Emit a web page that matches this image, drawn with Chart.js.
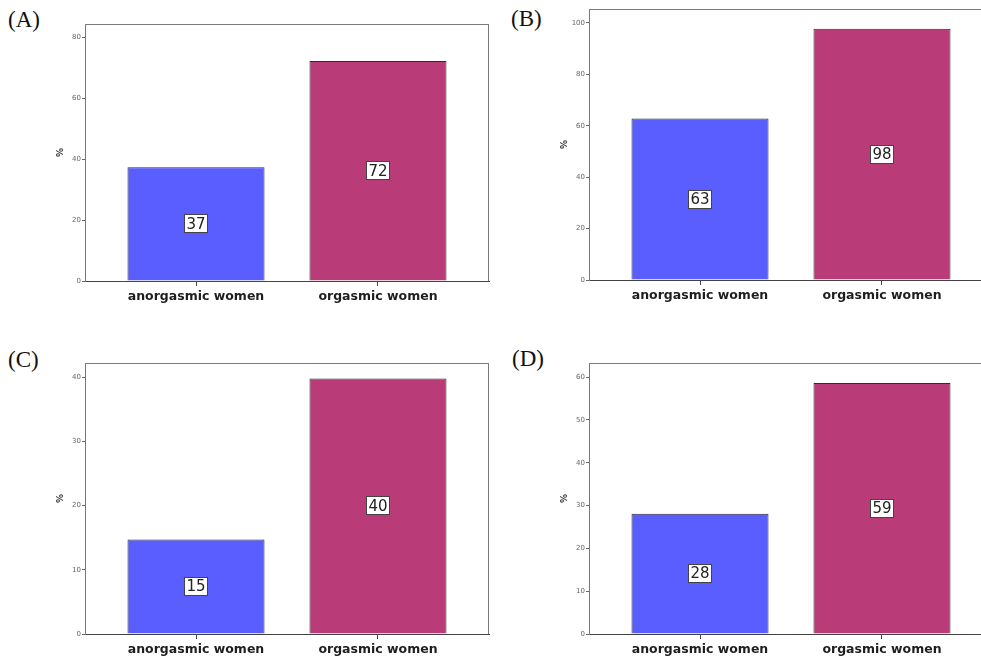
<!DOCTYPE html>
<html lang="en">
  <head>
    <meta charset="UTF-8" />
    <title>Orgasmic vs anorgasmic women</title>
    <script src="https://cdn.jsdelivr.net/npm/chart.js"></script>
    <style>
      body {
        margin: 0;
        background: #fff;
        width: 981px;
        height: 659px;
        overflow: hidden;
        position: relative;
      }
      .panel {
        position: absolute;
        width: 510px;
        height: 330px;
      }
      .tag {
        position: absolute;
        font-family: "Liberation Serif", "DejaVu Serif", serif;
        font-size: 23px;
        color: #111;
        line-height: 1;
      }
    </style>
  </head>
  <body>
    <div class="tag" style="left:8px;top:8px">(A)</div>
    <div class="tag" style="left:511px;top:7px">(B)</div>
    <div class="tag" style="left:8px;top:348px">(C)</div>
    <div class="tag" style="left:512px;top:347px">(D)</div>

    <div class="panel" style="left:0;top:0"><canvas id="chartA"></canvas></div>
    <div class="panel" style="left:490px;top:0"><canvas id="chartB"></canvas></div>
    <div class="panel" style="left:0;top:335px"><canvas id="chartC"></canvas></div>
    <div class="panel" style="left:490px;top:335px"><canvas id="chartD"></canvas></div>

    <script>
      // data
      const categories = ["anorgasmic women", "orgasmic women"];
      const valuesA = [37.4, 72.3];
      const valuesB = [62.8, 97.7];
      const valuesC = [14.7, 39.8];
      const valuesD = [28.1, 58.6];
      const ticksA = [0, 20, 40, 60, 80];
      const ticksB = [0, 20, 40, 60, 80, 100];
      const ticksC = [0, 10, 20, 30, 40];
      const ticksD = [0, 10, 20, 30, 40, 50, 60];

      const barColors = ["#5a5eff", "#b93c79"];

      // box round the plot area
      const framePlugin = {
        id: "frame",
        beforeDatasetsDraw(chart) {
          const a = chart.chartArea;
          const c = chart.ctx;
          c.save();
          c.strokeStyle = "#7a7a7a";
          c.lineWidth = 1;
          c.beginPath();
          c.moveTo(a.left, a.top + 0.5);
          c.lineTo(a.right, a.top + 0.5);
          c.moveTo(a.right - 0.5, a.top);
          c.lineTo(a.right - 0.5, a.bottom);
          c.stroke();
          c.restore();
        },
      };

      // value in a white box at the middle of each bar
      const valueBoxPlugin = {
        id: "valueBox",
        afterDatasetsDraw(chart) {
          const c = chart.ctx;
          const meta = chart.getDatasetMeta(0);
          const data = chart.data.datasets[0].data;
          c.save();
          c.font = "15px 'DejaVu Sans', sans-serif";
          c.textAlign = "center";
          c.textBaseline = "middle";
          meta.data.forEach((bar, i) => {
            const txt = String(Math.round(data[i].y));
            const cx = bar.x;
            const cy = (bar.y + bar.base) / 2;
            const w = Math.round(c.measureText(txt).width) + 5;
            const h = 19;
            const x0 = Math.round(cx - w / 2);
            const y0 = Math.round(cy - h / 2);
            c.fillStyle = "#fff";
            c.fillRect(x0, y0, w, h);
            c.strokeStyle = "#444";
            c.lineWidth = 1;
            c.strokeRect(x0 + 0.5, y0 + 0.5, w - 1, h - 1);
            c.fillStyle = "#222";
            c.fillText(txt, cx, cy + 1);
          });
          c.restore();
        },
      };

      function makePanel(id, values, yTicks, yMax, area) {
        const ctx = document.getElementById(id).getContext("2d");
        return new Chart(ctx, {
          type: "bar",
          data: {
            datasets: [
              {
                data: values.map((v, i) => ({ x: i, y: v })),
                backgroundColor: barColors,
                borderColor: "#2e2e2e",
                borderWidth: 1,
                barPercentage: 0.753,
                categoryPercentage: 1,
              },
            ],
          },
          options: {
            responsive: true,
            maintainAspectRatio: false,
            animation: false,
            layout: {
              padding: { left: area.left - 37, top: area.top, right: area.right, bottom: 0 },
            },
            plugins: {
              legend: { display: false },
              tooltip: { enabled: false },
            },
            scales: {
              x: {
                type: "linear",
                offset: false,
                min: -0.61,
                max: 1.61,
                afterBuildTicks: (s) => {
                  s.ticks = categories.map((c, i) => ({ value: i }));
                },
                afterFit: (s) => {
                  s.height = area.xHeight;
                },
                ticks: {
                  callback: (v) => categories[v],
                  color: "#1e1e1e",
                  font: { family: "'DejaVu Sans', sans-serif", size: 12.5, weight: "bold" },
                  padding: 3,
                  maxRotation: 0,
                  autoSkip: false,
                },
                grid: {
                  offset: false,
                  drawOnChartArea: false,
                  drawTicks: true,
                  tickLength: 5,
                  color: "#444",
                },
                border: { display: true, color: "#444", width: 1 },
              },
              y: {
                min: 0,
                max: yMax,
                afterBuildTicks: (s) => {
                  s.ticks = yTicks.map((v) => ({ value: v }));
                },
                afterFit: (s) => {
                  s.width = 37;
                },
                ticks: {
                  color: "#666",
                  font: { family: "'DejaVu Sans', sans-serif", size: 7 },
                  padding: 1,
                },
                grid: {
                  drawOnChartArea: false,
                  drawTicks: true,
                  tickLength: 3,
                  color: "#666",
                },
                border: { display: true, color: "#777", width: 1 },
                title: {
                  display: true,
                  text: "%",
                  color: "#333",
                  font: { family: "'DejaVu Sans', sans-serif", size: 9, weight: "bold" },
                  padding: { top: 7, bottom: 0 },
                },
              },
            },
          },
          plugins: [framePlugin, valueBoxPlugin],
        });
      }

      makePanel("chartA", valuesA, ticksA, 84.5, { left: 85, top: 24, right: 21, xHeight: 49 });
      makePanel("chartB", valuesB, ticksB, 105.4, { left: 99, top: 9, right: 7, xHeight: 50 });
      makePanel("chartC", valuesC, ticksC, 42.2, { left: 85, top: 28, right: 21, xHeight: 31 });
      makePanel("chartD", valuesD, ticksD, 63.3, { left: 99, top: 28, right: 7, xHeight: 31 });
    </script>
  </body>
</html>
